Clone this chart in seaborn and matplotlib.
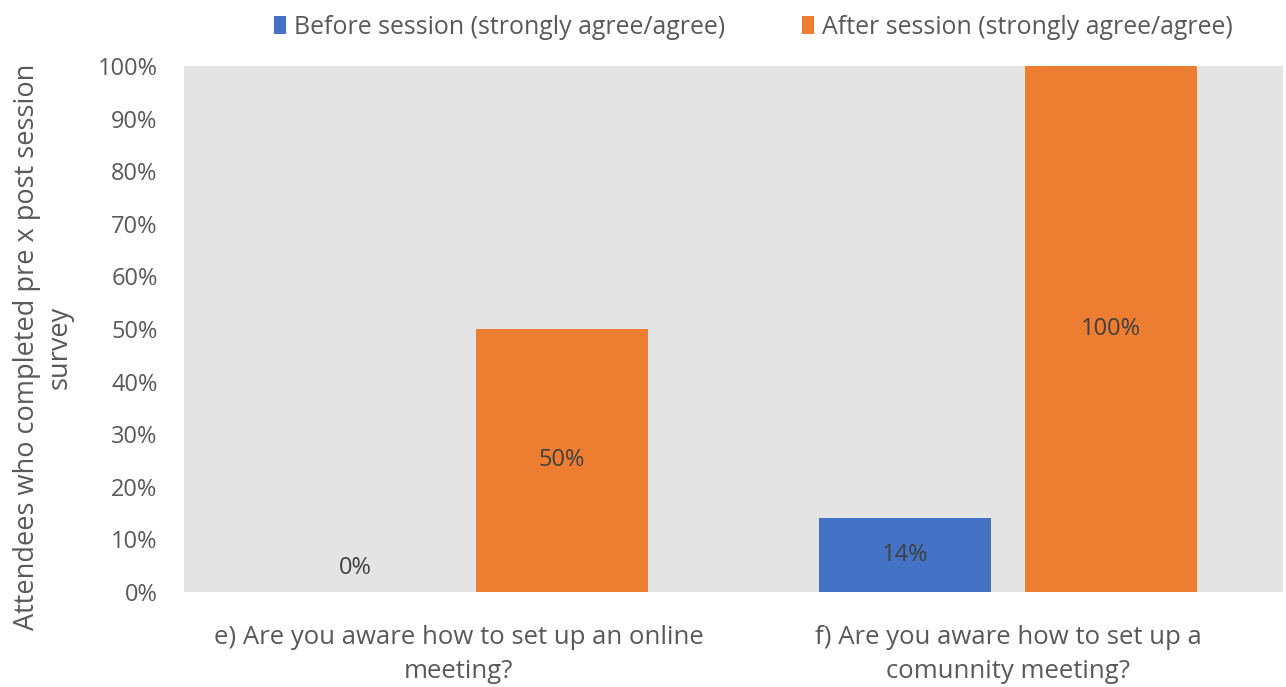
import matplotlib
matplotlib.use("Agg")
import matplotlib.pyplot as plt
import seaborn as sns
import pandas as pd
from matplotlib.patches import Patch

categories = ["e) Are you aware how to set up an online\nmeeting?",
              "f) Are you aware how to set up a\ncomunnity meeting?"]
series = ["Before session (strongly agree/agree)", "After session (strongly agree/agree)"]
before = [0, 14]
after = [50, 100]
yticks = [0, 10, 20, 30, 40, 50, 60, 70, 80, 90, 100]

colors = ["#4472C4", "#ED7D31"]

df = pd.DataFrame({
    "category": categories * 2,
    "series": [series[0]] * 2 + [series[1]] * 2,
    "value": before + after,
})

sns.set_theme(style="white")
plt.rcParams['font.family'] = ['Open Sans', 'DejaVu Sans']

fig = plt.figure(figsize=(12.86, 6.87), dpi=100)
ax = fig.add_axes([184/1286, 1 - 592/687, 1099/1286, 526/687])
ax.set_facecolor("#e4e4e4")

sns.barplot(data=df, x="category", y="value", hue="series", hue_order=series,
            palette=colors, width=0.75, gap=0.165, saturation=1, ax=ax,
            legend=False, errorbar=None, linewidth=0)

for cont in ax.containers:
    vals = list(cont.datavalues)
    ax.bar_label(cont, labels=[f"{v:.0f}%" if v > 0 else "" for v in vals],
                 label_type="center", color="#404040", fontsize=17)
    if any(v == 0 for v in vals):
        ax.bar_label(cont, labels=[f"{v:.0f}%" if v == 0 else "" for v in vals],
                     label_type="edge", padding=9, color="#404040", fontsize=17)

ax.set_ylim(0, 100)
ax.set_xlim(-0.5, 1.5)
ax.set_yticks(yticks)
ax.set_yticklabels([f"{t}%" for t in yticks], fontsize=17, color="#595959")
ax.set_xticks(range(len(categories)))
ax.set_xticklabels(categories, linespacing=1.45, fontsize=18.5, color="#595959")
ax.tick_params(axis="x", length=0, pad=24)
ax.tick_params(axis="y", length=0, pad=19)
ax.set_xlabel("")
ax.set_ylabel("Attendees who completed pre x post session\nsurvey", fontsize=19.5,
              color="#595959", linespacing=1.25)
ax.yaxis.set_label_coords(-0.1, 0.466)
for s in ax.spines.values():
    s.set_visible(False)

handles = [Patch(facecolor=c, edgecolor="none") for c in colors]
fig.legend(handles, series, loc="center", bbox_to_anchor=(753/1286, 1 - 27/687),
           ncol=2, frameon=False, fontsize=17.9, handlelength=0.5, handleheight=0.7,
           handletextpad=0.3, columnspacing=3.1, labelcolor="#595959")

fig.savefig("out.png", dpi=100)
